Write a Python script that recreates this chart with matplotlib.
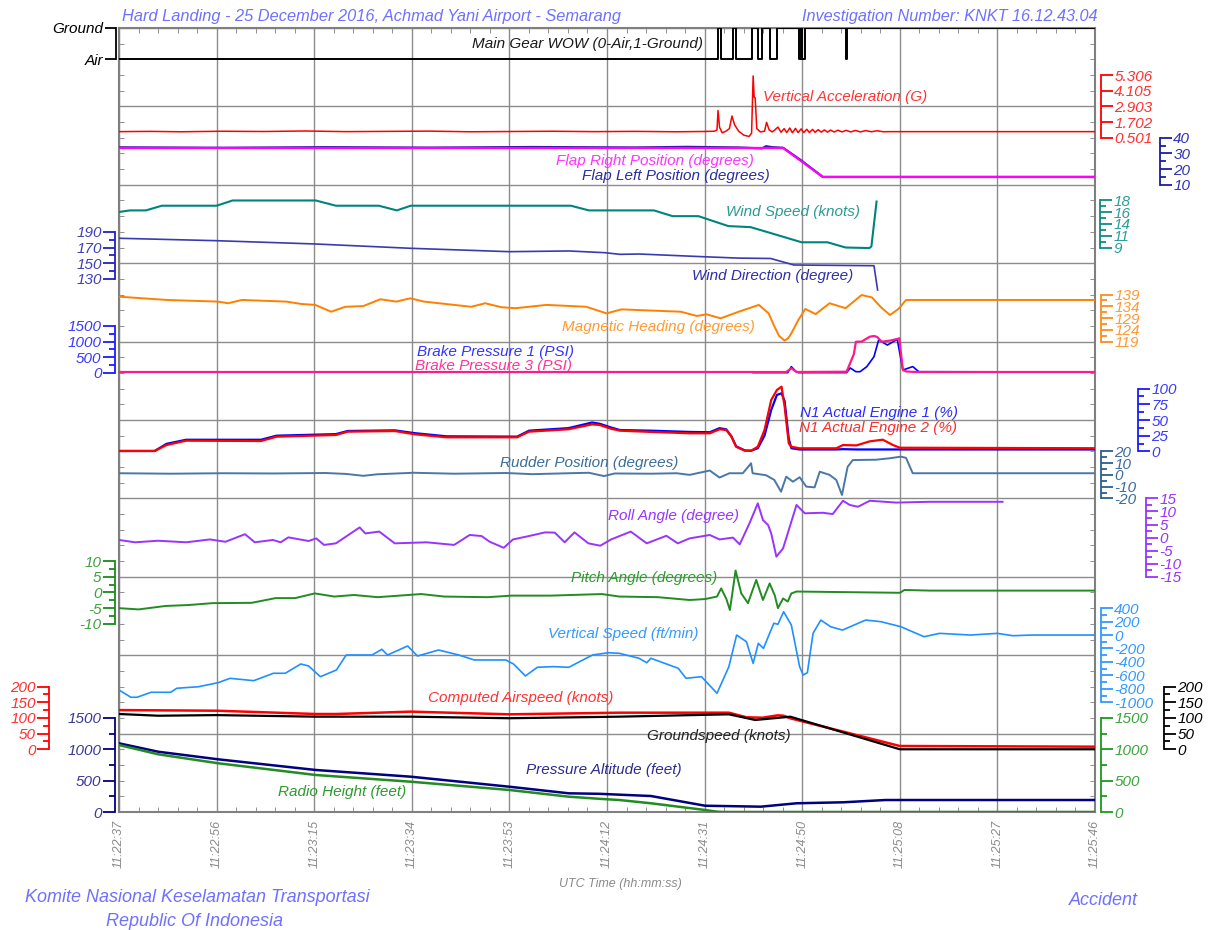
import matplotlib
matplotlib.use("Agg")
import matplotlib.pyplot as plt
import numpy as np

plt.rcParams['font.family'] = ['Liberation Sans', 'DejaVu Sans']
plt.rcParams['font.style'] = 'italic'

# Eje de tiempo: segundos desde 11:22:37
etiquetasTiempo = ["11:22:37", "11:22:56", "11:23:15", "11:23:34", "11:23:53", "11:24:12",
                   "11:24:31", "11:24:50", "11:25:08", "11:25:27", "11:25:46"]
duracionTotal = 189

# Main Gear WOW (0-Air, 1-Ground)
wow_t = [0, 116.0, 116.5, 118.9, 119.4, 122.6, 123.7, 124.6, 126.0, 127.4, 131.7, 132.0, 132.2, 132.8, 140.7, 140.9, 189]
wow_v = [0, 1, 0, 1, 0, 1, 0, 1, 0, 1, 0, 1, 0, 1, 0, 1, 1]

# Vertical Acceleration (G)
va_t = [0, 6, 12, 20, 28, 36, 44, 52, 60, 68, 76, 84, 92, 100, 108, 113, 115.3, 115.8, 116.0, 116.3, 116.8,
        117.5, 118.2, 118.7, 119.2, 120.0, 121.0, 122.0, 122.5, 122.8, 123.0, 123.2, 123.5, 124.2, 125.0,
        125.4, 125.9, 126.5, 127.0, 127.6, 128.2, 128.8, 129.3, 129.9, 130.4, 131.0, 131.5, 132.1, 132.6,
        133.2, 133.7, 134.3, 134.8, 135.4, 136.0, 136.6, 137.2, 137.8, 138.5, 139.2, 140.0, 140.8, 141.7,
        142.6, 143.6, 144.6, 145.7, 146.8, 148.0, 149.0, 189]
va_v = [0.97, 0.99, 0.96, 1.0, 0.98, 1.02, 0.97, 0.99, 1.01, 0.96, 0.98, 1.0, 0.97, 0.99, 0.96, 0.98, 1.0, 1.1, 2.59,
        1.3, 0.88, 1.0, 1.2, 2.17, 1.5, 1.0, 0.7, 0.6, 0.85, 5.24, 3.6, 3.55, 1.2, 0.95, 1.0,
        1.68, 1.1, 0.95, 1.1, 1.32, 0.92, 1.2, 0.9, 1.25, 0.88, 1.22, 0.9, 1.18, 0.9, 1.15, 0.9, 1.14,
        0.92, 1.12, 0.93, 1.1, 0.93, 1.09, 0.94, 1.08, 0.95, 1.07, 0.95, 1.06, 0.95, 1.05, 0.96, 1.04,
        0.96, 0.97, 0.97]

# Flap Position (degrees)
flapR_t = [0, 128.6, 136.3, 189]
flapR_v = [33.5, 33.5, 15, 15]
flapL_t = [0, 20, 40, 60, 80, 100, 110, 120, 124.5, 125.3, 126.5, 128.6, 132.0, 136.3, 189]
flapL_v = [33.9, 33.6, 34.0, 33.7, 34.1, 33.8, 34.2, 33.8, 33.2, 34.6, 34.0, 33.6, 25.8, 15, 15]

# Wind Speed (knots)
ws_t = [0, 2.1, 5.2, 8.3, 18.9, 22.0, 38.1, 42.0, 50.3, 53.8, 56.5, 87.5, 91.0, 103.6, 107.2, 112.2,
        118.0, 122.3, 125.4, 132.2, 137.2, 140.7, 145.3, 145.7, 146.7]
ws_v = [15.8, 16.1, 16.1, 17.0, 17.0, 18.0, 18.0, 17.0, 17.0, 16.1, 17.0, 17.0, 16.1, 16.1, 15.0, 15.0,
        13.1, 12.9, 12.0, 10.0, 10.0, 9.0, 8.9, 9.2, 17.8]

# Wind Direction (degree)
wd_t = [0, 18.9, 38.1, 56.5, 75.6, 87.1, 94.1, 97.0, 100.8, 113.0, 120.0, 126.2, 130.7, 146.2, 146.9]
wd_v = [181.8, 178.7, 174.5, 169.0, 164.7, 165.6, 163.4, 161.3, 161.7, 158.3, 156.5, 156.0, 147.7, 146.8, 115.8]

# Magnetic Heading (degrees)
hdg_t = [0, 9.3, 19.2, 21.1, 23.8, 32.4, 35.3, 38.0, 41.1, 43.8, 47.3, 50.6, 53.7, 56.4, 59.1, 68.2, 70.9,
         74.1, 76.8, 82.8, 90.5, 94.4, 97.3, 108.8, 111.9, 113.8, 116.5, 120.0, 123.9, 125.8, 126.8, 127.8,
         128.9, 129.6, 130.2, 131.5, 132.9, 134.9, 137.6, 140.7, 143.8, 145.8, 147.6, 149.3, 151.0, 152.4, 189]
hdg_v = [138.1, 136.7, 136.0, 135.3, 136.7, 136.0, 135.0, 134.6, 131.7, 133.8, 134.1, 137.0, 136.0, 137.4,
         136.0, 133.8, 135.3, 133.6, 133.2, 134.6, 133.8, 131.0, 132.7, 131.7, 129.9, 130.6, 128.9, 131.7,
         134.6, 131.0, 126.0, 121.5, 119.4, 120.5, 122.5, 128.0, 132.9, 130.7, 135.3, 133.2, 138.8, 137.8,
         133.5, 130.3, 133.0, 136.7, 136.7]

# Brake Pressure (PSI)
bp3_t = [0, 129.2, 130.2, 131.2, 140.9, 142.3, 142.7, 143.8, 145.4, 146.2, 146.8, 147.7, 149.2, 150.7, 151.1,
         151.8, 152.5, 154.5, 189]
bp3_v = [30, 30, 150, 30, 40, 600, 995, 1000, 1157, 1178, 1150, 997, 1029, 1083, 1105, 94, 45, 30, 30]
bp1_t = [0, 122.6, 122.7, 129.5, 130.2, 131.0, 131.6, 140.9, 141.6, 142.7, 143.5, 144.8, 146.2, 147.1, 148.8,
         150.7, 151.8, 153.7, 154.9, 189]
bp1_v = [30, 30, 10, 10, 200, 60, 10, 10, 160, 40, 40, 200, 519, 1051, 890, 1072, 94, 203, 40, 30]

# N1 Actual (%)
n1_t = [0, 6.9, 9.2, 13.0, 27.5, 30.5, 42.0, 44.3, 53.4, 57.3, 63.4, 77.1, 79.4, 87.0, 91.6, 93.1, 95.3, 97.0,
        103.0, 110.5, 114.4, 116.3, 117.6, 118.6, 119.5, 121.2, 122.4, 123.7, 125.0, 126.3, 127.4, 128.3,
        128.9, 129.7, 130.2, 131.8, 138.9, 140.2, 142.8, 145.4, 147.9, 149.9, 151.2, 189]
n1_eng2 = [0.6, 0.6, 10.1, 17.0, 16.5, 23.4, 26.1, 31.4, 32.4, 27.2, 22.4, 22.4, 31.4, 35.2, 43.0, 42.0, 36.0,
           33.0, 31.0, 28.8, 28.8, 35.2, 34.0, 23.4, 7.4, 1.0, 1.0, 7.4, 34.0, 81.9, 97.8, 103.1, 71.2, 12.8,
           7.4, 4.9, 4.9, 10.1, 9.5, 16.0, 18.6, 10.0, 5.8, 5.0]
n1_eng1 = [0.6, 0.6, 12.0, 18.5, 18.5, 25.0, 27.5, 32.5, 33.5, 29.0, 24.0, 23.5, 33.0, 37.0, 46.0, 44.0, 38.0,
           34.0, 33.0, 31.0, 30.5, 37.0, 35.0, 24.0, 8.0, 1.5, 1.0, 5.0, 25.0, 66.0, 90.0, 92.6, 80.0, 20.0,
           5.0, 3.0, 3.0, 3.5, 3.0, 3.0, 3.0, 3.0, 3.0, 3.0]

# Rudder Position (degrees)
rud_t = [0, 10, 20, 30, 40, 44, 47.3, 50, 57, 65, 75, 80, 88, 91, 93.9, 96, 103, 108, 110.5, 114.4, 116.3,
         118.2, 120.8, 122.4, 122.7, 125.3, 126.9, 128.2, 129.2, 130.5, 131.8, 133.1, 134.7, 135.7, 137.6,
         138.9, 140.0, 141.1, 142.1, 146.6, 149.2, 151.4, 152.4, 153.7, 189]
rud_v = [1.4, 1.0, 1.4, 1.2, 1.6, 0.8, -0.8, 0.5, 1.8, 1.0, 1.6, 0.6, 1.5, 1.8, -1.0, 1.2, 1.0, 1.4, 0.0, 3.7,
         -2.3, 1.4, 1.4, 9.9, 1.4, -0.3, -4.3, -14.3, -1.5, -5.8, -2.0, -10.0, -10.6, 2.7, 0.0, -4.3,
         -17.1, 6.9, 12.6, 12.9, 14.1, 15.5, 14.5, 1.4, 1.4]

# Roll Angle (degree)
roll_t = [0, 3.1, 7.6, 13.0, 17.6, 20.6, 24.4, 26.3, 29.8, 31.3, 32.8, 36.7, 38.2, 39.7, 42.0, 46.6, 47.7, 50.4,
          53.4, 59.6, 64.9, 67.9, 70.2, 71.8, 74.5, 76.3, 79.4, 82.5, 84.4, 86.3, 88.2, 90.9, 93.2, 95.3, 99.1,
          102.2, 106.0, 108.2, 110.5, 114.4, 116.3, 118.9, 120.2, 122.1, 123.7, 124.7, 125.7, 126.3, 127.3,
          128.6, 129.9, 131.2, 132.8, 136.3, 138.2, 140.2, 141.5, 143.1, 145.4, 150.5, 157.0, 171.1]
roll_v = [-0.9, -1.8, -1.2, -1.8, -0.7, -1.6, 1.3, -1.8, -0.9, -1.8, 0.1, -1.3, -0.3, -2.8, -2.2, 3.9, 1.6, 2.3,
          -2.2, -1.8, -2.8, 1.0, 0.6, -1.6, -3.9, -0.7, 0.6, 2.0, 1.9, -1.8, 2.0, -2.2, -3.1, -0.7, 2.3,
          -2.2, 0.7, -2.2, -0.3, 1.0, -0.7, 0.0, -2.6, 5.5, 13.1, 6.7, 4.8, 1.6, -7.3,
          -4.1, 4.2, 12.5, 9.3, 9.5, 9.0, 14.1, 12.5, 11.8, 14.1, 13.4, 13.7, 13.7]

# Pitch Angle (degrees)
pitch_t = [0, 3.8, 9.0, 13.5, 18.1, 25.7, 30.3, 34.1, 37.9, 41.7, 45.5, 50.1, 58.5, 63.0, 71.4, 76.0, 83.6, 93.5,
           96.9, 104.4, 110.5, 113.5, 115.8, 116.6, 117.6, 118.3, 119.4, 120.5, 121.8, 123.4, 124.7, 126.0,
           127.0, 127.6, 128.6, 129.5, 130.2, 131.2, 151.2, 152.1, 157.0, 189]
pitch_v = [-5.0, -5.4, -4.3, -4.0, -3.4, -3.3, -1.8, -1.8, -0.3, -1.3, -0.8, -1.5, -0.5, -1.3, -1.5, -1.0, -1.0,
           -0.5, -1.3, -1.5, -2.4, -2.1, -1.3, 1.3, -2.0, -5.6, 7.0, -0.3, -3.4, 4.0, -2.4, 2.9,
           -1.0, -5.0, -1.9, -2.9, -0.3, 0.3, -0.1, 0.8, 0.6, 0.6]

# Vertical Speed (ft/min)
vs_t = [0, 2.3, 3.5, 6.2, 10.0, 11.2, 15.4, 19.2, 21.5, 26.1, 29.9, 32.2, 35.2, 36.7, 39.0, 42.1, 44.0, 45.5,
        49.0, 50.9, 52.0, 55.9, 57.8, 61.9, 65.8, 68.8, 74.9, 76.4, 78.7, 81.0, 84.1, 87.1, 91.7, 94.8, 96.9,
        100.7, 102.2, 103.0, 108.3, 109.8, 112.8, 115.8, 118.1, 119.6, 121.5, 122.8, 123.8, 124.8, 126.8,
        127.6, 128.7, 130.2, 131.8, 132.5, 133.3, 134.4, 135.9, 137.8, 140.1, 144.6, 147.6, 151.4, 155.9,
        158.9, 164.9, 170.1, 173.1, 176.8, 189]
vs_v = [-818, -926, -926, -852, -852, -792, -769, -709, -644, -679, -569, -569, -431, -460, -620, -520, -297,
        -297, -297, -212, -297, -163, -312, -223, -297, -371, -371, -431, -609, -480, -470, -480, -297, -263,
        -272, -346, -412, -346, -495, -644, -620, -867, -471, 0, -99, -421, -124, -198, 175,
        160, 347, 148, -471, -595, -560, 25, 223, 124, 74, 223, 198, 124, -25,
        25, 0, 25, -10, 0, 0]

# Computed Airspeed / Groundspeed (knots)
cas_t = [0, 18.9, 38.1, 42.0, 56.5, 75.6, 96.9, 118.1, 121.5, 124.6, 127.6, 128.7, 130.0, 151.2, 189]
cas_v = [125, 123, 112.5, 112.5, 120, 111.5, 116.7, 116.7, 102, 100.7, 108.3, 107, 98.8, 10.5, 8.3]
gs_t = [0, 7.6, 18.9, 38.1, 56.5, 75.6, 96.9, 118.1, 123.2, 130.0, 151.2, 189]
gs_v = [112.5, 107, 109, 104, 104, 99, 104, 111.5, 93.4, 103.9, 0, 0]

# Pressure Altitude / Radio Height (feet)
pa_t = [0, 7.6, 19.2, 38.1, 56.5, 75.6, 87.1, 93.0, 103.0, 113.5, 124.3, 131.2, 140.3, 148.4, 189]
pa_v = [1095, 961, 840, 670, 563, 403, 298, 290, 255, 100, 85, 139, 155, 191, 191]
rh_t = [0, 7.6, 19.2, 38.1, 56.5, 75.6, 87.1, 93.1, 96.9, 103.0, 113.5, 115.8, 117.0, 189]
rh_v = [1068, 920, 777, 590, 483, 351, 244, 210, 191, 139, 32, 5, 0, 0]

fig = plt.figure(figsize=(12.14, 9.30), dpi=100)
ax = fig.add_axes([119 / 1214, 118 / 930, 976 / 1214, 784 / 930])
PT = 0.72  # puntos por pixel


def eje(lado, despl, v0, b0, porBanda, ticks, color, etiquetas=None, menores=None, colorTexto=None):
    a = ax.twinx()
    a.set_ylim(v0 - b0 * porBanda, v0 + (10 - b0) * porBanda)
    for s in a.spines.values():
        s.set_visible(False)
    sp = a.spines[lado]
    sp.set_visible(True)
    sp.set_position(('outward', despl * PT))
    sp.set_bounds(min(ticks), max(ticks))
    sp.set_color(color)
    sp.set_linewidth(1.3)
    if lado == 'left':
        a.yaxis.tick_left()
    else:
        a.yaxis.tick_right()
    a.set_yticks(ticks, etiquetas if etiquetas else [str(t) for t in ticks])
    if menores is not None:
        a.set_yticks(menores, minor=True)
    a.tick_params(axis='y', which='major', direction='out', length=12 * PT, width=1.3, color=color,
                  labelcolor=colorTexto or color, labelsize=11, pad=1)
    a.tick_params(axis='y', which='minor', direction='out', length=6 * PT, width=1.3, color=color)
    return a


def etiqueta(t, b, texto, color):
    ax.text(t, b, texto, color=color, fontsize=11, va='center', ha='left', zorder=5)


# WOW
a = eje('left', 3, 0, 9.6, 2.5, [0, 1], 'black', etiquetas=['Air', 'Ground'])
a.tick_params(axis='y', length=11 * PT)
a.plot(wow_t, wow_v, color='black', lw=1.4, drawstyle='steps-post')

# Vertical acceleration
a = eje('right', 6, 0.501, 8.6, 6.005, [0.501, 1.702, 2.903, 4.105, 5.306], '#ff0000', colorTexto='#ff3030')
a.plot(va_t, va_v, color='#ff0000', lw=1.1)

# Flaps
a = eje('right', 65, 10, 8.0, 50, [10, 20, 30, 40], '#1c1ca0', menores=[15, 25, 35], colorTexto='#3232b4')
a.plot(flapL_t, flapL_v, color='#1c1c9a', lw=1.6)
a.plot(flapR_t, flapR_v, color='#ff00ff', lw=1.6)

# Wind speed
a = eje('right', 5, 9, 7.2, 15, [9, 11.25, 13.5, 15.75, 18], '#138a84', etiquetas=['9', '11', '14', '16', '18'],
        menores=[10.125, 12.375, 14.625, 16.875], colorTexto='#2a9d96')
a.plot(ws_t, ws_v, color='#00847e', lw=1.5)

# Wind direction
a = eje('left', 4, 150, 7.0, 100, [130, 150, 170, 190], '#2020c0', menores=[140, 160, 180], colorTexto='#4040b8')
a.plot(wd_t, wd_v, color='#3a3ab0', lw=1.2)

# Magnetic heading
a = eje('right', 6, 119, 6.0, 33.33, [119, 124, 129, 134, 139], '#ff8c1a',
        menores=[121.5, 126.5, 131.5, 136.5], colorTexto='#ff9933')
a.plot(hdg_t, hdg_v, color='#ff8000', lw=1.4)

# Brake pressure
a = eje('left', 4, 0, 5.6, 2500, [0, 500, 1000, 1500], '#1a1aff', menores=[250, 750, 1250], colorTexto='#3a3aff')
a.plot(bp1_t, bp1_v, color='#0000ff', lw=1.2)
a.plot(bp3_t, bp3_v, color='#ff1a8c', lw=1.6)

# N1
a = eje('right', 43, 0, 4.6, 125, [0, 25, 50, 75, 100], '#1a1aff', menores=[12.5, 37.5, 62.5, 87.5],
        colorTexto='#3a3aff')
a.plot(n1_t, n1_eng1, color='#0000ff', lw=1.6)
a.plot(n1_t, n1_eng2, color='#ff0000', lw=1.6)

# Rudder
a = eje('right', 6, 0, 4.3, 66.67, [-20, -10, 0, 10, 20], '#2b5f8f', etiquetas=['-20', '-10', '0', '10', '20'],
        menores=[-15, -5, 5, 15], colorTexto='#3a6c9c')
a.plot(rud_t, rud_v, color='#4a78a6', lw=1.4)

# Roll
a = eje('right', 51, 0, 3.5, 30, [-15, -10, -5, 0, 5, 10, 15], '#9933ff', menores=[-12.5, -7.5, -2.5, 2.5, 7.5, 12.5])
a.plot(roll_t, roll_v, color='#9933ff', lw=1.4)

# Pitch
a = eje('left', 4, 0, 2.8, 25, [-10, -5, 0, 5, 10], '#1a8a1a', menores=[-7.5, -2.5, 2.5, 7.5], colorTexto='#3ea23e')
a.plot(pitch_t, pitch_v, color='#228b22', lw=1.4)

# Vertical speed
a = eje('right', 6, -1000, 1.4, 1166.67, list(range(-1000, 401, 200)), '#3399ff',
        menores=list(range(-900, 400, 200)))
a.plot(vs_t, vs_v, color='#1e90ff', lw=1.2)

# Airspeed
a = eje('left', 70, 0, 0.8, 250, [0, 50, 100, 150, 200], '#ff0000', menores=[25, 75, 125, 175], colorTexto='#ff3030')
a.plot(cas_t, cas_v, color='#ff0000', lw=1.8)

# Groundspeed
a = eje('right', 69, 0, 0.8, 250, [0, 50, 100, 150, 200], 'black', menores=[25, 75, 125, 175])
a.plot(gs_t, gs_v, color='black', lw=1.6)

# Pressure altitude
a = eje('left', 4, 0, 0.0, 1250, [0, 500, 1000, 1500], '#000080', menores=[250, 750, 1250], colorTexto='#3a3a96')
a.plot(pa_t, pa_v, color='#000080', lw=1.8)

# Radio height
a = eje('right', 6, 0, 0.0, 1250, [0, 500, 1000, 1500], '#1a9a1a', menores=[250, 750, 1250], colorTexto='#3ea23e')
a.plot(rh_t, rh_v, color='#228b22', lw=1.8)

# Ejes principales: bandas y rejilla
paso = duracionTotal / 10
ax.set_xlim(0, duracionTotal)
ax.set_ylim(0, 10)
ax.set_xticks(np.arange(11) * paso, etiquetasTiempo, rotation=90)
ax.set_xticks(np.arange(51) * paso / 5, minor=True)
ax.set_yticks(range(11), [''] * 11)
ax.set_yticks(np.arange(51) * 0.2, minor=True)
ax.grid(True, which='major', color='#8c8c8c', lw=1.0)
ax.tick_params(which='major', length=0, labelsize=9, labelcolor='#8a8a8a', pad=6)
ax.tick_params(which='minor', direction='in', length=5 * PT, color='#808080',
               top=True, bottom=True, left=True, right=True)
for s in ax.spines.values():
    s.set_color('#808080')
    s.set_linewidth(1.5)

etiqueta(68.3, 9.796, "Main Gear WOW (0-Air,1-Ground)", '#1a1a1a')
etiqueta(124.7, 9.12, "Vertical Acceleration (G)", '#ff3333')
etiqueta(84.6, 8.304, "Flap Right Position (degrees)", '#ff33ff')
etiqueta(89.6, 8.112, "Flap Left Position (degrees)", '#2b2ba0')
etiqueta(117.6, 7.653, "Wind Speed (knots)", '#2a9a96')
etiqueta(110.9, 6.837, "Wind Direction (degree)", '#2e2ea6')
etiqueta(85.7, 6.186, "Magnetic Heading (degrees)", '#ff9a33')
etiqueta(57.8, 5.867, "Brake Pressure 1 (PSI)", '#3333ff')
etiqueta(57.3, 5.689, "Brake Pressure 3 (PSI)", '#ff3399')
etiqueta(131.8, 5.089, "N1 Actual Engine 1 (%)", '#2a2aff')
etiqueta(131.6, 4.898, "N1 Actual Engine 2 (%)", '#ff2a2a')
etiqueta(73.7, 4.452, "Rudder Position (degrees)", '#3a6d9a')
etiqueta(94.6, 3.776, "Roll Angle (degree)", '#9933ff')
etiqueta(87.6, 2.985, "Pitch Angle (degrees)", '#2e9a2e')
etiqueta(83.0, 2.270, "Vertical Speed (ft/min)", '#3399ff')
etiqueta(59.8, 1.454, "Computed Airspeed (knots)", '#ff3333')
etiqueta(102.2, 0.969, "Groundspeed (knots)", '#222222')
etiqueta(78.8, 0.536, "Pressure Altitude (feet)", '#2b2b8f')
etiqueta(30.7, 0.255, "Radio Height (feet)", '#2e9a2e')

azul = '#7070ff'
fig.text(122 / 1214, 1 - 16 / 930, "Hard Landing - 25 December 2016, Achmad Yani Airport - Semarang",
         color=azul, fontsize=11.8, ha='left', va='center')
fig.text(1097 / 1214, 1 - 16 / 930, "Investigation Number: KNKT 16.12.43.04",
         color=azul, fontsize=11.7, ha='right', va='center')
fig.text(620 / 1214, 1 - 884 / 930, "UTC Time (hh:mm:ss)", color='#8a8a8a', fontsize=9, ha='center', va='center')
fig.text(25 / 1214, 1 - 897 / 930, "Komite Nasional Keselamatan Transportasi", color=azul, fontsize=13,
         ha='left', va='center')
fig.text(106 / 1214, 1 - 921 / 930, "Republic Of Indonesia", color=azul, fontsize=13, ha='left', va='center')
fig.text(1069 / 1214, 1 - 900 / 930, "Accident", color=azul, fontsize=13, ha='left', va='center')

fig.savefig("out.png", dpi=100)
